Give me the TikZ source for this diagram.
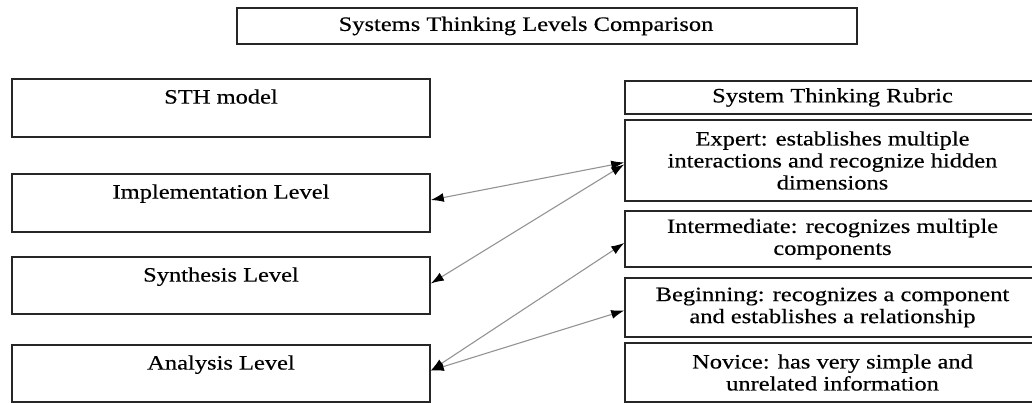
\documentclass[tikz,border=0pt]{standalone}
\usepackage{fontspec}
\setmainfont{Liberation Serif}[FakeStretch=1.2,FakeBold=0.4]
\usetikzlibrary{arrows.meta}
\begin{document}
\begin{tikzpicture}[x=1pt,y=-1pt,
  box/.style={draw=black!85, line width=1.6pt, rectangle, inner sep=0pt, align=center,
              font=\fontsize{20.4}{22}\selectfont},
  lbl/.style={inner sep=0pt, font=\fontsize{20.4}{22}\selectfont},
  leftbox/.style={box, minimum width=418pt},
  rightbox/.style={box, minimum width=415pt},
  link/.style={draw=gray!85, line width=1.1pt,
    {Latex[color=black,length=13pt,width=9pt]}-{Latex[color=black,length=13pt,width=9pt]}}]
\useasboundingbox (0,0) rectangle (1032,403);
% title
\node[box, minimum width=620pt, minimum height=36pt] (title) at (547,26) {};
\node[lbl] (titletext) at (526,26) {Systems Thinking Levels Comparison};
% left column
\node[leftbox, minimum height=58pt] (sth) at (221,108) {};
\node[lbl, anchor=north, yshift=-11pt] (sthtext) at (sth.north) {STH model};
\node[leftbox, minimum height=58pt] (impl) at (221,203) {};
\node[lbl, anchor=north, yshift=-11pt] (impltext) at (impl.north) {Implementation Level};
\node[leftbox, minimum height=57pt] (synth) at (221,285.5) {};
\node[lbl, anchor=north, yshift=-11pt] (synthtext) at (synth.north) {Synthesis Level};
\node[leftbox, minimum height=57pt] (anal) at (221,373.5) {};
\node[lbl, anchor=north, yshift=-11pt] (analtext) at (anal.north) {Analysis Level};
% right column
\node[rightbox, minimum height=33pt] (rubric) at (832.5,97.5) {System Thinking Rubric};
\node[rightbox, minimum height=81pt] (expert) at (832.5,160.5) {Expert: establishes multiple\\interactions and recognize hidden\\dimensions};
\node[rightbox, minimum height=56pt] (inter) at (832.5,239) {Intermediate: recognizes multiple\\components};
\node[rightbox, minimum height=59pt] (begin) at (832.5,307.5) {Beginning: recognizes a component\\and establishes a relationship};
\node[rightbox, minimum height=59pt] (novice) at (832.5,372.5) {Novice: has very simple and\\unrelated information};
% connectors
\draw[link] ([yshift=-2pt]expert.west) -- ([yshift=3pt]impl.east);
\draw[link] ([yshift=-4pt]expert.west) -- ([yshift=2pt]synth.east);
\draw[link] ([yshift=-4pt]inter.west) -- ([yshift=3pt]anal.east);
\draw[link] ([yshift=-3pt]begin.west) -- ([yshift=3pt]anal.east);
\end{tikzpicture}
\end{document}
